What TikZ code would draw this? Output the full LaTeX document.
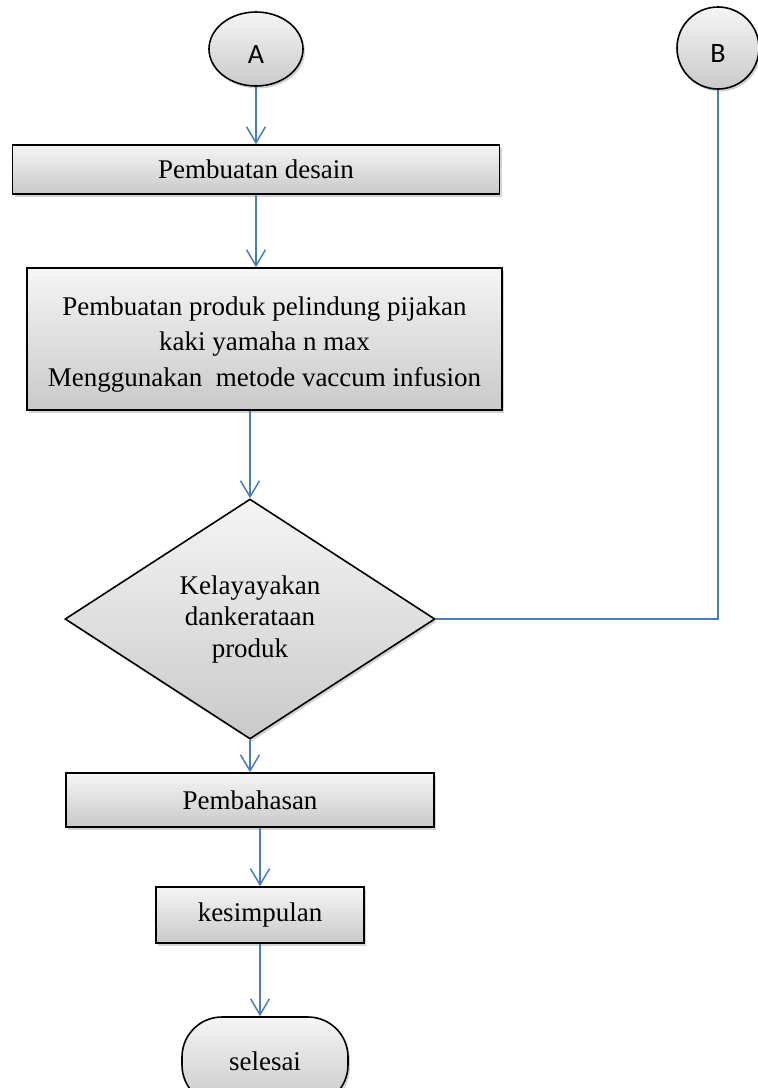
\documentclass[tikz,border=0pt]{standalone}
\usepackage{fontspec}
\setmainfont{Liberation Serif}
\newfontfamily\labelfont{Carlito}
\usetikzlibrary{shapes.geometric,shadows,arrows.meta}

\tikzset{
  flowbox/.style={draw=black, line width=1.6pt, top color=gray!8, bottom color=gray!42,
    drop shadow={shadow xshift=2pt, shadow yshift=-2.5pt, opacity=0.35},
    align=center, font=\fontsize{27}{35.5}\selectfont, inner sep=2pt},
  connector/.style={draw=black, line width=1.6pt, top color=gray!8, bottom color=gray!42,
    drop shadow={shadow xshift=2pt, shadow yshift=-2.5pt, opacity=0.35},
    font=\labelfont\fontsize{28}{30}\selectfont, inner sep=0pt,
    text height=28pt, text depth=0pt},
  flowline/.style={draw={rgb,255:red,74;green,126;blue,187}, line width=1.5pt},
  flowarrow/.style={flowline, -{Straight Barb[length=16pt,width=19pt,line width=1.5pt]}}
}

\begin{document}
\begin{tikzpicture}[x=1pt,y=-1pt]
\clip (0,0) rectangle (758,1088);

% terminals
\node[connector, ellipse, minimum width=94pt, minimum height=74pt] (A) at (256,49) {A};
\node[connector, circle, minimum size=82pt] (B) at (718,48) {B};

% process steps
\node[flowbox, minimum width=487pt, minimum height=49pt] (desain) at (256,169.5) {Pembuatan desain};
\node[flowbox, minimum width=475pt, minimum height=142pt, text height=100pt] (produk) at (264.5,339)
  {Pembuatan produk pelindung pijakan\\kaki yamaha n max\\Menggunakan\ \ metode vaccum infusion};
\node[flowbox, diamond, aspect=1.54, minimum width=370pt, minimum height=240pt, inner sep=0pt,
  font=\fontsize{27}{31.5}\selectfont] (uji) at (250,619) {Kelayayakan\\dankerataan\\produk};
\node[flowbox, minimum width=368pt, minimum height=54pt] (bahas) at (250,800) {Pembahasan};
\node[flowbox, minimum width=208pt, minimum height=56pt] (simpul) at (260,915) {kesimpulan};
\node[flowbox, rounded corners=40pt, minimum width=166pt, minimum height=88pt] (selesai) at (265,1061) {selesai};

% connections
\draw[flowarrow] (A.south) -- (A.south |- desain.north);
\draw[flowarrow] (desain.south) -- (desain.south |- produk.north);
\draw[flowarrow] (uji.north |- produk.south) -- (uji.north);
\draw[flowline] (uji.east) -| (B.south);
\draw[flowarrow] (uji.south) -- (uji.south |- bahas.north);
\draw[flowarrow] (simpul.north |- bahas.south) -- (simpul.north);
\draw[flowarrow] (simpul.south) -- (simpul.south |- selesai.north);
\end{tikzpicture}
\end{document}
